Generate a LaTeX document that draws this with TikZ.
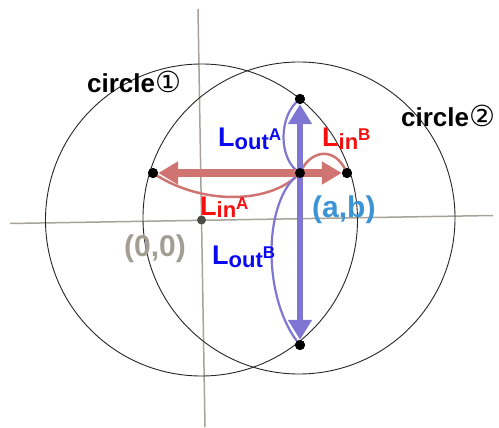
\documentclass[tikz,border=0pt]{standalone}
\usepackage{fontspec}
\setmainfont{Liberation Sans}
\newfontfamily\djv{DejaVu Sans}
\usetikzlibrary{arrows.meta}
\definecolor{arrred}{HTML}{CF7470}
\definecolor{arrblue}{HTML}{7F76D4}
\definecolor{txtred}{HTML}{F50F0F}
\definecolor{txtblue}{HTML}{0A0AF0}
\definecolor{axisgray}{HTML}{A8A398}
\definecolor{origgray}{HTML}{A39E94}
\definecolor{abblue}{HTML}{3C93D6}
\definecolor{origdot}{HTML}{4D4D45}
\newcommand{\Llab}[2]{{\fontsize{27}{27}\selectfont L}{\fontsize{22}{22}\selectfont\raisebox{-2pt}{#1}}{\fontsize{17}{17}\selectfont\raisebox{6pt}{#2}}}
\begin{document}
\begin{tikzpicture}[x=1pt,y=-1pt,
  dotnode/.style={circle,fill=black,inner sep=0pt,minimum size=10pt},
  axisline/.style={draw=axisgray,line width=1.5pt},
  circline/.style={draw=black!85,line width=0.9pt},
  thinred/.style={draw=arrred,line width=2.5pt},
  thinblue/.style={draw=arrblue,line width=2.2pt},
  thickred/.style={draw=arrred,line width=8pt,-{Triangle[length=20pt,width=22pt]}},
  thickblue/.style={draw=arrblue,line width=6.5pt,-{Triangle[length=20pt,width=23pt]}},
  lab/.style={anchor=base west,inner sep=0pt,font=\bfseries}]
\useasboundingbox (0,0) rectangle (499,428);
% axes
\coordinate (xa) at (10,223.5);
\coordinate (xb) at (493,215.5);
\coordinate (ya) at (198,9);
\coordinate (yb) at (205,427);
\draw[axisline] (xa) -- (xb);
\draw[axisline] (ya) -- (yb);
% circles
\coordinate (c1) at (201.5,220);
\coordinate (c2) at (299,218);
\draw[circline] (c1) circle[radius=156];
\draw[circline] (c2) circle[radius=156];
% points
\node[dotnode] (c) at (300,173) {};
\node[dotnode] (t) at (300,99) {};
\node[dotnode] (r) at (347,173) {};
\node[dotnode] (l) at (153,173) {};
\node[dotnode] (bo) at (300,345) {};
\node[circle,fill=origdot,inner sep=0pt,minimum size=9pt] (o) at (201.5,220) {};
% thin curves
\draw[thinred] (c.center) .. controls (270,205) and (200,205) .. (l.center);
\draw[thinred] (c.center) .. controls (310,150) and (335,145) .. (r.center);
\draw[thinblue] (c.center) .. controls (278,160) and (278,115) .. (t.center);
\draw[thinblue] (c.center) .. controls (262,200) and (262,300) .. (bo.center);
% thick arrows
\draw[thickred] (c.center) -- (l);
\draw[thickred] (c.center) -- (r);
\draw[thickblue] (c.center) -- (t);
\draw[thickblue] (c.center) -- (bo);
% redraw dots on top
\node[dotnode] at (c) {};
\node[dotnode] at (t) {};
\node[dotnode] at (r) {};
\node[dotnode] at (l) {};
\node[dotnode] at (bo) {};
% labels
\node[lab] (circ1) at (87,93) {\fontsize{26}{26}\selectfont circle{\fontsize{29}{29}\selectfont\djv\mdseries ①}};
\node[lab] (circ2) at (401,127) {\fontsize{26}{26}\selectfont circle{\fontsize{29}{29}\selectfont\djv\mdseries ②}};
\node[lab,text=txtblue] (loa) at (218,147) {\Llab{out}{A}};
\node[lab,text=txtred] (lib) at (322,147) {\Llab{in}{B}};
\node[lab,text=txtred] (lia) at (200,215) {\Llab{in}{A}};
\node[lab,text=txtblue] (lob) at (212,265) {\Llab{out}{B}};
\node[lab,text=origgray] (olab) at (124,257) {\fontsize{30}{30}\selectfont (0,0)};
\node[lab,text=abblue] (ablab) at (312,218) {\fontsize{30}{30}\selectfont (a,b)};
\end{tikzpicture}
\end{document}
